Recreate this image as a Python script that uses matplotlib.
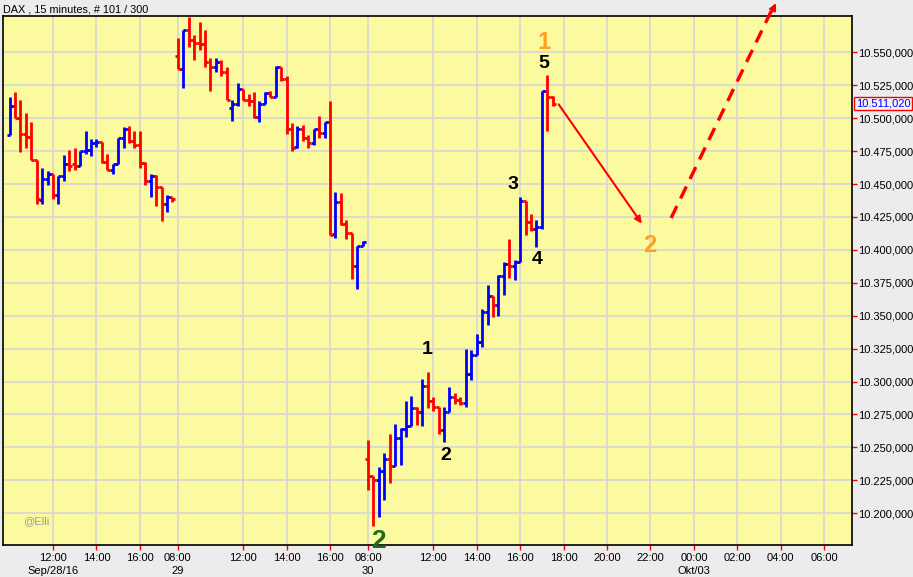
import numpy as np
import matplotlib
matplotlib.use('Agg')
import matplotlib.pyplot as plt
import matplotlib.transforms as mtransforms

plt.rcParams['font.family'] = ['Liberation Sans', 'DejaVu Sans']

# bar index: 0 = Sep/28 12:00, one step = 15 minutes
day_start = [-8, 23, 58]

# Sep 28
open_28 = [10487, 10509, 10500, 10488, 10486, 10468, 10438, 10454, 10458, 10442, 10456,
           10465, 10465, 10464, 10475, 10476, 10481, 10482, 10467, 10461, 10465, 10485,
           10492, 10483, 10480, 10466, 10452, 10456, 10448, 10435, 10440]
high_28 = [10516, 10520, 10514, 10504, 10497, 10468, 10462, 10460, 10458, 10456, 10472,
           10476, 10477, 10475, 10490, 10484, 10484, 10482, 10473, 10465, 10485, 10493,
           10494, 10490, 10490, 10467, 10458, 10457, 10448, 10442, 10440]
low_28 = [10487, 10500, 10474, 10477, 10468, 10435, 10435, 10449, 10439, 10435, 10452,
          10460, 10461, 10464, 10473, 10471, 10478, 10466, 10461, 10458, 10465, 10477,
          10481, 10477, 10462, 10449, 10440, 10433, 10422, 10429, 10436]
close_28 = [10509, 10500, 10488, 10486, 10468, 10439, 10454, 10458, 10442, 10456, 10465,
            10464, 10464, 10475, 10476, 10481, 10482, 10467, 10461, 10465, 10485, 10492,
            10483, 10480, 10466, 10452, 10456, 10448, 10435, 10440, 10439]

# Sep 29
open_29 = [10547, 10537, 10567, 10559, 10557, 10556, 10543, 10539, 10543, 10535, 10508,
           10511, 10522, 10514, 10513, 10501, 10511, 10519, 10516, 10539, 10530, 10492,
           10478, 10492, 10485, 10481, 10492, 10489, 10497, 10412, 10436, 10420, 10413,
           10388, 10403]
high_29 = [10561, 10567, 10577, 10563, 10573, 10567, 10546, 10546, 10544, 10539, 10514,
           10527, 10522, 10518, 10520, 10513, 10520, 10521, 10540, 10539, 10532, 10496,
           10494, 10495, 10487, 10492, 10502, 10497, 10513, 10444, 10443, 10423, 10413,
           10403, 10407]
low_29 = [10537, 10523, 10554, 10544, 10552, 10539, 10521, 10535, 10532, 10514, 10498,
          10509, 10514, 10509, 10500, 10497, 10511, 10516, 10516, 10528, 10488, 10475,
          10477, 10483, 10477, 10480, 10485, 10485, 10411, 10409, 10419, 10408, 10378,
          10370, 10403]
close_29 = [10537, 10567, 10559, 10557, 10556, 10543, 10539, 10543, 10535, 10514, 10511,
            10522, 10514, 10513, 10501, 10511, 10519, 10516, 10539, 10530, 10492, 10477,
            10492, 10485, 10481, 10492, 10489, 10497, 10411, 10436, 10420, 10413, 10388,
            10403, 10406]

# Sep 30
open_30 = [10241, 10228, 10225, 10232, 10241, 10236, 10257, 10264, 10266, 10280, 10277,
           10297, 10285, 10281, 10263, 10277, 10288, 10286, 10284, 10306, 10320, 10330,
           10353, 10365, 10358, 10380, 10389, 10388, 10391, 10437, 10421, 10416, 10417,
           10521, 10516]
high_30 = [10256, 10228, 10235, 10246, 10260, 10268, 10265, 10285, 10289, 10281, 10302,
           10307, 10288, 10281, 10281, 10296, 10291, 10288, 10325, 10324, 10336, 10355,
           10373, 10365, 10381, 10391, 10408, 10392, 10440, 10437, 10427, 10423, 10521,
           10533, 10517]
low_30 = [10218, 10190, 10197, 10210, 10223, 10236, 10237, 10258, 10266, 10267, 10266,
          10280, 10278, 10260, 10254, 10277, 10283, 10282, 10281, 10301, 10320, 10326,
          10343, 10349, 10350, 10366, 10379, 10377, 10391, 10411, 10414, 10402, 10416,
          10490, 10509]
close_30 = [10228, 10225, 10232, 10241, 10236, 10257, 10264, 10266, 10280, 10277, 10297,
            10285, 10281, 10263, 10277, 10288, 10286, 10284, 10306, 10320, 10330, 10353,
            10365, 10358, 10380, 10389, 10388, 10391, 10437, 10421, 10416, 10417, 10521,
            10516, 10511]

last_price = 10511.02

tick_pos = [0, 8, 16, 23, 35, 43, 51, 58, 70, 78, 86, 94, 102, 110, 118, 126, 134, 142]
tick_lab = ['12:00\nSep/28/16', '14:00', '16:00', '08:00\n29', '12:00', '14:00', '16:00',
            '08:00\n30', '12:00', '14:00', '16:00', '18:00', '20:00', '22:00',
            '00:00\nOkt/03', '02:00', '04:00', '06:00']
price_ticks = np.arange(10200, 10551, 25)

days = [(open_28, high_28, low_28, close_28),
        (open_29, high_29, low_29, close_29),
        (open_30, high_30, low_30, close_30)]


def de_fmt(v):
    s = '{:,.3f}'.format(v)
    return s.replace(',', '#').replace('.', ',').replace('#', '.')


fig = plt.figure(figsize=(9.13, 5.77), dpi=100, facecolor='#ECECEC')
ax = fig.add_axes([3 / 913, 32 / 577, 849 / 913, 529 / 577])
ax.set_facecolor('#FCFA9E')

# OHLC bars
w = 0.55
for start, (o, h, l, c) in zip(day_start, days):
    x = np.arange(start, start + len(o))
    o, h, l, c = map(np.array, (o, h, l, c))
    col = np.where(c >= o, '#0000FF', '#FF0000')
    ax.vlines(x, l, h, colors=col, lw=2.0, zorder=3)
    ax.hlines(o, x - w, x, colors=col, lw=2.0, zorder=3)
    ax.hlines(c, x, x + w, colors=col, lw=2.0, zorder=3)

ax.set_xlim(-9.2, 147.1)
ax.set_ylim(10175.9, 10577.6)

ax.set_xticks(tick_pos)
ax.set_xticklabels(tick_lab, fontsize=8, linespacing=1.35)
ax.yaxis.tick_right()
ax.set_yticks(price_ticks)
ax.set_yticklabels([de_fmt(v) for v in price_ticks], fontsize=8)
ax.tick_params(axis='both', direction='out', color='red', length=3.6, width=1.0,
               labelcolor='black', pad=1)
ax.tick_params(axis='x', pad=2)
ax.grid(True, color='#D6D6D6', lw=1.2)
ax.set_axisbelow(True)
for sp in ax.spines.values():
    sp.set_color('black')
    sp.set_linewidth(1.2)

# title and last price
fig.text(3 / 913, 1 - 9 / 577, 'DAX , 15 minutes, # 101 / 300', fontsize=7.8, va='center')
trans = mtransforms.blended_transform_factory(ax.transAxes, ax.transData)
ax.text(1.0045, last_price, de_fmt(last_price), transform=trans, fontsize=8, color='#0000FF',
        va='center', ha='left',
        bbox=dict(boxstyle='square,pad=0.15', fc='#F2F2F2', ec='red', lw=1.0))

# wave labels
ax.text(90.4, 10557.8, '1', color='#FF9F1C', fontsize=17, fontweight='bold', ha='center', va='center')
ax.text(90.4, 10541.9, '5', color='black', fontsize=14, fontweight='bold', ha='center', va='center')
ax.text(84.7, 10450, '3', color='black', fontsize=14, fontweight='bold', ha='center', va='center')
ax.text(89.1, 10393, '4', color='black', fontsize=14, fontweight='bold', ha='center', va='center')
ax.text(68.9, 10324, '1', color='black', fontsize=14, fontweight='bold', ha='center', va='center')
ax.text(72.4, 10243.5, '2', color='black', fontsize=14, fontweight='bold', ha='center', va='center')
ax.text(109.9, 10403.7, '2', color='#FF9F1C', fontsize=17, fontweight='bold', ha='center', va='center')
ax.text(59.9, 10179, '2', color='#1E6B1E', fontsize=19, fontweight='bold', ha='center',
        va='center', clip_on=False, zorder=5)
ax.text(-3.1, 10194, '@Elli', color='#9A9A9A', fontsize=8, ha='center', va='center')

# projected path
ax.annotate('', xy=(108.4, 10420), xytext=(93.1, 10510.5),
            arrowprops=dict(arrowstyle='-|>', color='red', lw=1.5, mutation_scale=10,
                            shrinkA=0, shrinkB=0))
ax.plot([113.8, 132.6], [10424.2, 10584.5], color='red', lw=2.4, ls=(0, (4, 2.5)),
        clip_on=False, zorder=4)
ax.annotate('', xy=(133.1, 10587.4), xytext=(132.3, 10580.5), annotation_clip=False,
            arrowprops=dict(arrowstyle='-|>', color='red', lw=1.5, mutation_scale=10,
                            shrinkA=0, shrinkB=0))

plt.savefig('out.png', dpi=100, facecolor=fig.get_facecolor())
